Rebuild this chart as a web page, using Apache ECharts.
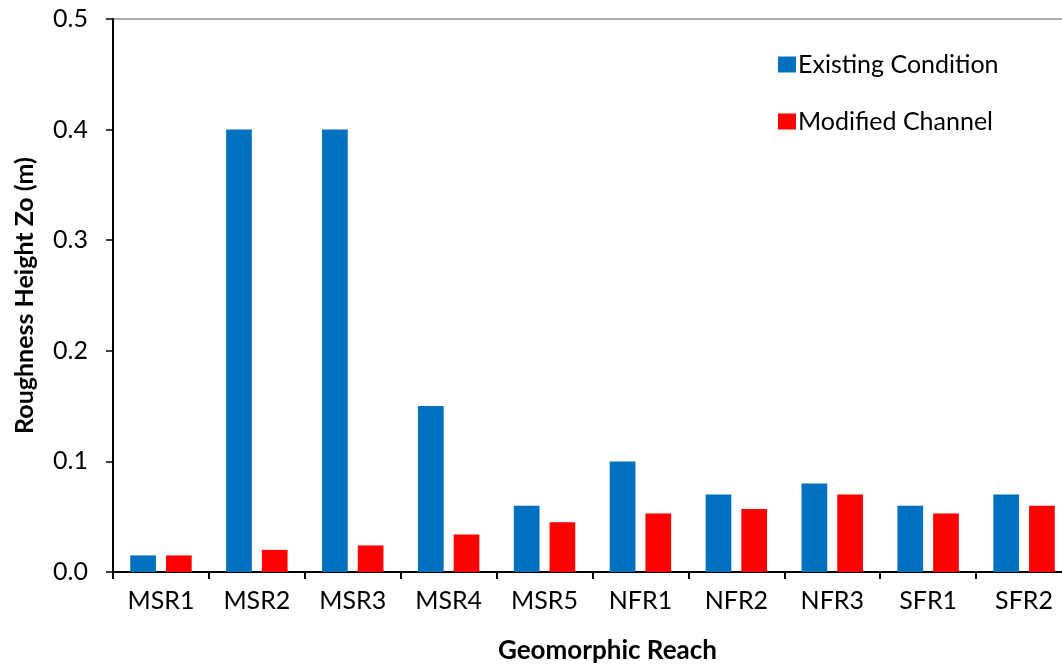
<!DOCTYPE html>
<html>
<head>
<meta charset="utf-8">
<script src="https://cdn.jsdelivr.net/npm/echarts@6/dist/echarts.min.js"></script>
<style>html,body{margin:0;padding:0;background:#fff;}#chart{width:1062px;height:666px;}</style>
</head>
<body>
<div id="chart"></div>
<script>
const categories = ['MSR1','MSR2','MSR3','MSR4','MSR5','NFR1','NFR2','NFR3','SFR1','SFR2'];
const existingCondition = [0.015, 0.4, 0.4, 0.15, 0.06, 0.1, 0.07, 0.08, 0.06, 0.07];
const modifiedChannel = [0.015, 0.02, 0.024, 0.034, 0.045, 0.053, 0.057, 0.07, 0.053, 0.06];
const yTicks = [0, 0.1, 0.2, 0.3, 0.4, 0.5];

const font = 'Lato, "Open Sans", sans-serif';
const chart = echarts.init(document.getElementById('chart'), null, {renderer: 'canvas'});
chart.setOption({
  animation: false,
  backgroundColor: '#fff',
  grid: {left: 113, right: -10, top: 19, bottom: 94, show: true, borderColor: '#555', borderWidth: 1, containLabel: false, outerBoundsMode: 'none'},
  legend: {
    orient: 'vertical', left: 773, top: 47,
    itemWidth: 18, itemHeight: 16, itemGap: 32,
    textStyle: {fontFamily: font, fontSize: 25, color: '#000', padding: [0,0,0,-3]},
    icon: 'rect',
    data: ['Existing Condition', 'Modified Channel']
  },
  xAxis: {
    type: 'category', data: categories,
    axisLine: {lineStyle: {color: '#000', width: 2}},
    axisTick: {show: true, length: 7, alignWithLabel: false, lineStyle: {color: '#000', width: 2}},
    axisLabel: {fontFamily: font, fontSize: 25, color: '#000', margin: 16},
    name: 'Geomorphic Reach', nameLocation: 'middle', nameGap: 66,
    nameTextStyle: {fontFamily: font, fontSize: 26, fontWeight: 'bold', color: '#000', padding: [0, 0, 0, 30]}
  },
  yAxis: {
    type: 'value', min: yTicks[0], max: yTicks[yTicks.length-1], interval: 0.1,
    axisLine: {show: true, lineStyle: {color: '#000', width: 2}},
    axisTick: {show: true, length: 7, lineStyle: {color: '#000', width: 1.5}},
    splitLine: {show: false},
    axisLabel: {fontFamily: font, fontSize: 25, color: '#000', margin: 25, formatter: v => v.toFixed(1)},
    name: 'Roughness Height Zo (m)', nameLocation: 'middle', nameGap: 76,
    nameTextStyle: {fontFamily: font, fontSize: 25, fontWeight: 'bold', color: '#000'}
  },
  series: [
    {name: 'Existing Condition', type: 'bar', data: existingCondition, barWidth: '26.8%', barGap: '39%', itemStyle: {color: '#0070C0'}},
    {name: 'Modified Channel', type: 'bar', data: modifiedChannel, barWidth: '26.8%', barGap: '39%', itemStyle: {color: '#FF0000'}}
  ]
});
</script>
</body>
</html>
